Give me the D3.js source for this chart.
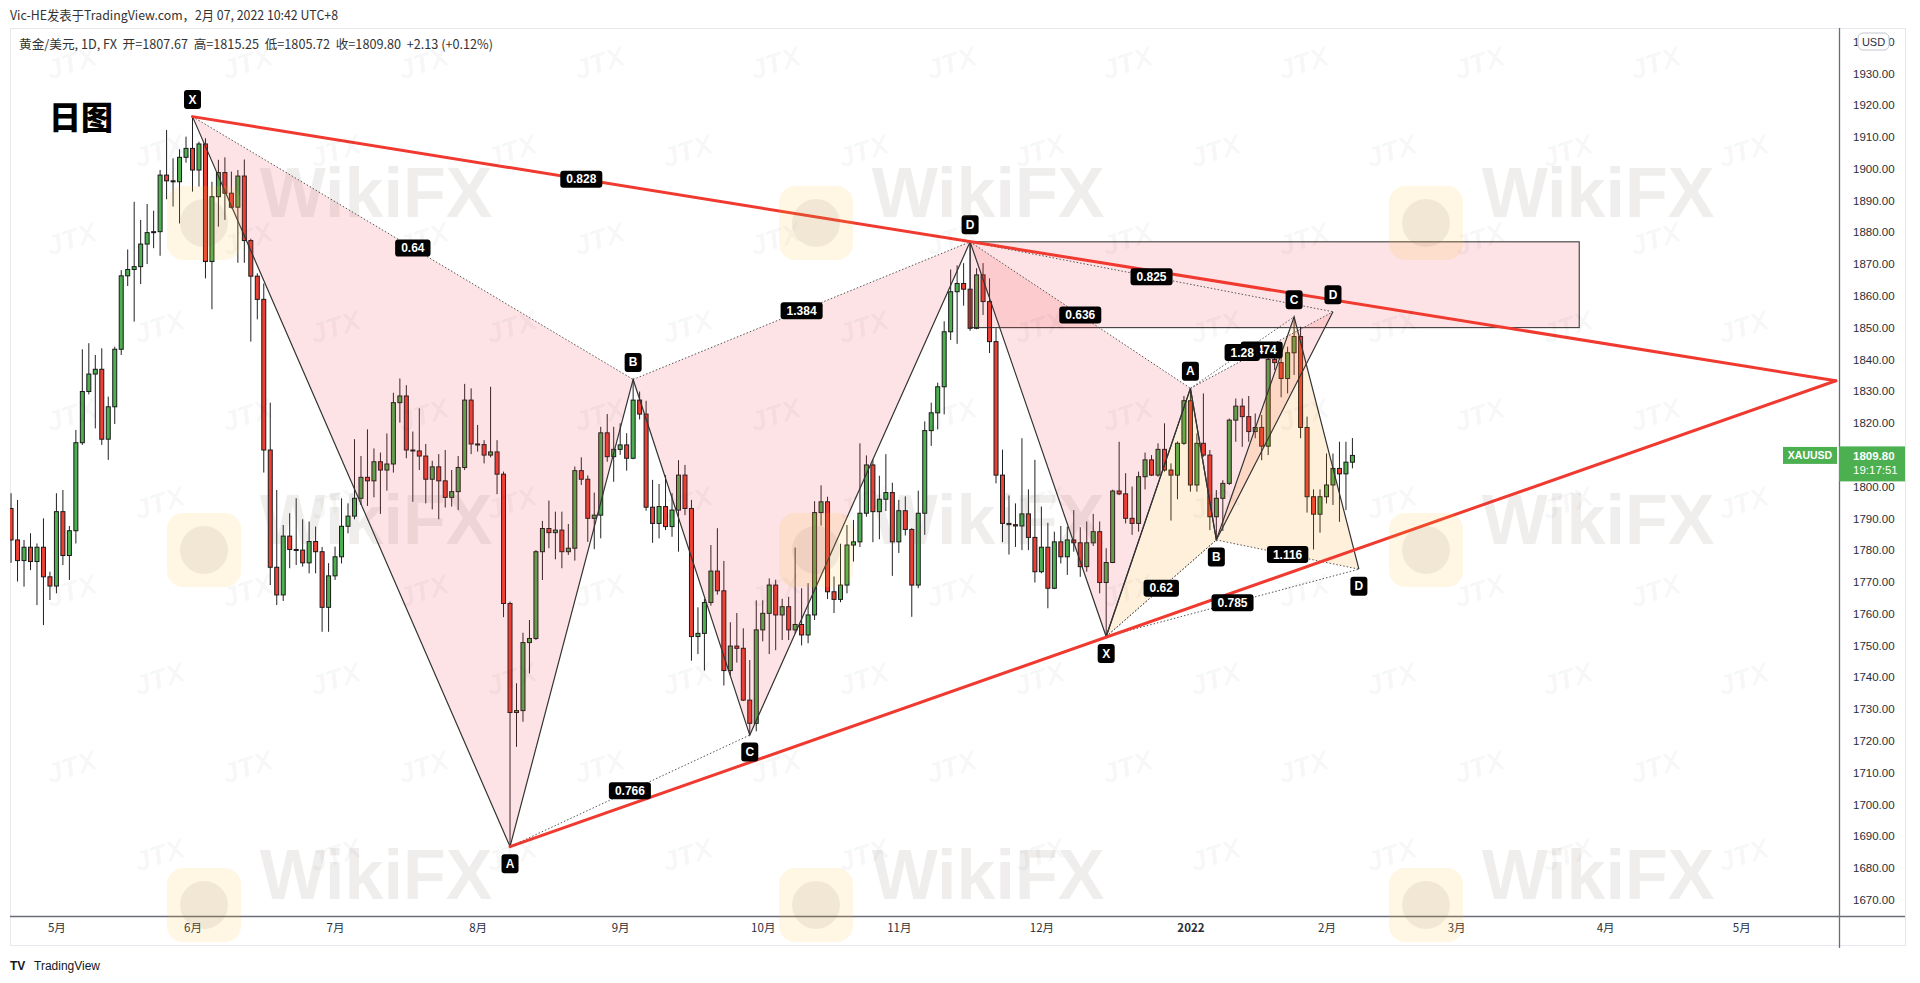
<!DOCTYPE html>
<html><head><meta charset="utf-8">
<script src="https://cdn.jsdelivr.net/npm/d3@7"></script>
<style>body{margin:0;background:#fff;overflow:hidden}svg{display:block}</style>
</head><body>
<svg id="c" width="1920" height="983"></svg>
<script>
// ---------- DATA ----------
const startIndex = -28; // trading-day index of first candle (0 = 2021-06-01)
const opens = [
1793.1,1783.2,1776.7,1780.9,1776.4,1780.9,1771.6,1768.7,1792.1,1778.3,
1786.1,1813.8,1829.9,1835.4,1836.9,1814.9,1825.1,1843.2,1866.3,1868.3,
1869.2,1876.3,1879.9,1880.2,1898.0,1896.2,1895.9,1903.6,1906.4,1899.6,
1907.8,1870.8,1891.2,1898.8,1892.3,1887.9,1897.7,1877.4,1866.2,1858.9,
1811.5,1774.6,1765.9,1784.4,1780.2,1780.0,1776.0,1782.7,1779.5,1762.0,
1771.9,1777.9,1787.5,1790.7,1796.3,1802.9,1801.8,1807.8,1805.2,1807.1,
1826.4,1828.5,1811.5,1811.2,1809.6,1802.3,1806.2,1801.8,1796.6,1798.4,
1806.0,1827.2,1813.4,1813.2,1809.9,1810.9,1803.9,1763.2,1728.9,1729.5,
1750.9,1752.2,1779.5,1786.8,1785.5,1786.3,1779.5,1780.6,1805.0,1802.3,
1790.0,1791.0,1816.9,1809.4,1811.7,1813.1,1808.9,1827.2,1822.8,1793.5,
1788.4,1793.7,1787.4,1792.6,1803.6,1793.1,1752.8,1753.8,1763.5,1773.4,
1767.2,1742.1,1749.8,1749.1,1732.8,1725.5,1754.9,1760.1,1769.0,1759.6,
1762.2,1754.9,1756.6,1753.3,1759.6,1791.8,1795.2,1766.9,1764.5,1769.0,
1781.6,1782.6,1791.6,1806.8,1792.1,1796.0,1798.1,1782.6,1792.4,1786.5,
1769.0,1791.6,1817.6,1823.2,1831.4,1848.7,1861.3,1863.9,1862.1,1849.8,
1866.6,1858.2,1845.6,1803.6,1788.4,1788.0,1787.6,1791.4,1784.0,1773.2,
1780.9,1768.0,1782.6,1777.9,1783.2,1782.3,1774.8,1782.3,1785.8,1769.8,
1776.1,1798.6,1797.7,1790.0,1788.4,1803.1,1808.4,1803.6,1811.7,1805.2,
1803.6,1813.6,1827.0,1800.5,1813.6,1809.9,1790.5,1796.3,1801.0,1820.9,
1825.3,1822.0,1817.3,1818.6,1812.7,1840.0,1839.0,1834.0,1842.1,1847.2,
1818.6,1796.8,1791.3,1796.8,1800.5,1805.7,1804.0,1807.67];
const highs = [
1797.9,1795.8,1783.2,1785.3,1782.1,1790.0,1773.2,1797.9,1798.9,1787.6,
1817.8,1843.2,1845.1,1841.4,1843.5,1828.3,1844.0,1868.1,1874.6,1889.6,
1883.9,1888.9,1886.8,1899.6,1912.2,1903.3,1906.1,1910.1,1916.4,1908.5,
1909.6,1895.9,1902.8,1903.6,1899.1,1899.6,1902.9,1878.0,1867.1,1863.9,
1826.4,1798.9,1787.9,1791.6,1796.3,1789.7,1789.0,1787.4,1781.0,1775.9,
1781.1,1796.3,1794.7,1814.9,1809.6,1818.0,1812.0,1810.7,1816.7,1829.5,
1834.0,1831.9,1817.3,1824.6,1813.4,1808.1,1810.2,1811.5,1805.2,1809.6,
1832.3,1830.9,1819.4,1814.6,1831.4,1814.6,1804.7,1763.8,1738.1,1754.0,
1758.0,1780.0,1789.2,1795.6,1792.1,1792.1,1788.2,1806.3,1809.2,1803.5,
1798.1,1818.8,1822.8,1818.8,1819.9,1816.8,1833.7,1829.9,1827.0,1802.1,
1800.8,1803.6,1797.9,1808.3,1806.8,1795.8,1762.0,1764.7,1781.6,1786.9,
1776.6,1757.3,1760.2,1755.4,1745.4,1764.2,1764.2,1771.1,1770.7,1764.7,
1765.3,1780.8,1768.0,1769.6,1795.4,1800.4,1796.8,1771.7,1782.0,1787.9,
1789.5,1813.6,1809.8,1808.5,1803.4,1810.2,1801.2,1795.8,1796.9,1786.9,
1798.7,1820.5,1826.4,1832.7,1852.0,1868.3,1869.6,1870.3,1877.0,1868.7,
1870.3,1865.5,1849.8,1811.6,1797.2,1794.7,1815.2,1799.1,1808.4,1793.7,
1788.6,1785.8,1787.6,1787.4,1792.6,1787.2,1789.0,1791.4,1789.0,1780.6,
1799.0,1814.1,1804.2,1800.0,1804.7,1810.7,1809.9,1813.6,1819.9,1807.3,
1814.2,1828.5,1830.9,1816.7,1829.3,1811.5,1798.9,1802.0,1821.4,1827.7,
1827.7,1828.5,1823.0,1822.5,1841.4,1842.9,1841.4,1844.0,1853.4,1850.3,
1822.0,1799.1,1799.1,1810.4,1810.4,1814.1,1814.1,1815.25];
const lows = [
1776.0,1770.1,1768.5,1773.7,1762.7,1756.4,1764.3,1766.4,1775.3,1770.6,
1782.1,1813.1,1829.0,1818.3,1813.1,1808.4,1819.7,1841.4,1863.1,1851.9,
1863.7,1870.0,1875.0,1872.6,1890.4,1888.1,1882.8,1901.9,1892.8,1894.4,
1865.5,1855.8,1881.8,1883.9,1887.5,1870.4,1870.4,1845.6,1852.6,1804.4,
1769.0,1762.7,1764.0,1774.3,1775.3,1774.8,1772.7,1772.7,1754.3,1754.3,
1770.6,1775.8,1785.3,1789.7,1794.2,1793.9,1796.6,1791.4,1798.7,1804.4,
1820.1,1808.9,1795.2,1805.2,1794.7,1792.8,1789.7,1793.4,1793.7,1792.6,
1805.2,1810.2,1811.0,1807.3,1809.2,1797.6,1758.9,1686.7,1718.1,1726.0,
1741.2,1751.7,1770.6,1780.6,1777.1,1774.3,1778.5,1776.7,1800.5,1782.6,
1780.3,1783.7,1807.8,1801.5,1810.0,1805.0,1808.6,1821.1,1792.4,1782.3,
1783.7,1786.3,1784.2,1779.5,1791.0,1745.2,1747.3,1742.1,1762.5,1766.0,
1737.4,1740.5,1744.6,1732.5,1721.8,1723.0,1751.3,1747.3,1748.5,1751.7,
1751.7,1753.8,1750.0,1750.7,1758.0,1787.7,1764.6,1760.2,1763.6,1766.4,
1776.4,1781.0,1790.5,1782.5,1783.4,1792.3,1771.9,1779.1,1784.6,1759.0,
1768.0,1784.8,1812.8,1818.0,1822.7,1846.1,1844.9,1856.9,1849.0,1849.5,
1854.0,1842.0,1801.0,1782.5,1778.6,1781.0,1780.0,1780.0,1769.8,1772.7,
1761.7,1767.7,1775.8,1772.2,1779.5,1771.6,1773.2,1781.3,1766.4,1752.8,
1775.9,1797.3,1788.4,1784.8,1785.8,1799.1,1803.3,1803.1,1804.7,1789.3,
1796.0,1813.1,1798.4,1798.4,1809.4,1786.3,1783.2,1786.0,1800.5,1814.1,
1812.5,1814.1,1815.2,1808.3,1809.9,1836.7,1828.1,1829.3,1835.1,1815.2,
1791.8,1780.2,1785.5,1794.7,1794.2,1788.9,1792.6,1805.72];
const closes = [
1783.2,1776.7,1780.9,1776.4,1780.9,1771.6,1768.7,1792.1,1778.3,1786.1,
1813.8,1829.9,1835.4,1836.9,1814.9,1825.1,1843.2,1866.3,1868.3,1869.2,
1876.3,1879.9,1880.2,1898.0,1896.2,1895.9,1903.6,1906.4,1899.6,1907.8,
1870.8,1891.2,1898.8,1892.3,1887.9,1897.7,1877.4,1866.2,1858.9,1811.5,
1774.6,1765.9,1784.4,1780.2,1780.0,1776.0,1782.7,1779.5,1762.0,1771.9,
1777.9,1787.5,1790.7,1796.3,1802.9,1801.8,1807.8,1805.2,1807.1,1826.4,
1828.5,1811.5,1811.2,1809.6,1802.3,1806.2,1801.8,1796.6,1798.4,1806.0,
1827.2,1813.4,1813.2,1809.9,1810.9,1803.9,1763.2,1728.9,1729.5,1750.9,
1752.2,1779.5,1786.8,1785.5,1786.3,1779.5,1780.6,1805.0,1802.3,1790.0,
1791.0,1816.9,1809.4,1811.7,1813.1,1808.9,1827.2,1822.8,1793.5,1788.4,
1793.7,1787.4,1792.6,1803.6,1793.1,1752.8,1753.8,1763.5,1773.4,1767.2,
1742.1,1749.8,1749.1,1732.8,1725.5,1754.9,1760.1,1769.0,1759.6,1762.2,
1754.9,1756.6,1753.3,1759.6,1791.8,1795.2,1766.9,1764.5,1769.0,1781.6,
1782.6,1791.6,1806.8,1792.1,1796.0,1798.1,1782.6,1792.4,1786.5,1769.0,
1791.6,1817.6,1823.2,1831.4,1848.7,1861.3,1863.9,1862.1,1849.8,1866.6,
1858.2,1845.6,1803.6,1788.4,1788.0,1787.6,1791.4,1784.0,1773.2,1780.9,
1768.0,1782.6,1777.9,1783.2,1782.3,1774.8,1782.3,1785.8,1769.8,1776.1,
1798.6,1797.7,1790.0,1788.4,1803.1,1808.4,1803.6,1811.7,1805.2,1803.6,
1813.6,1827.0,1800.5,1813.6,1809.9,1790.5,1796.3,1801.0,1820.9,1825.3,
1822.0,1817.3,1818.6,1812.7,1840.0,1839.0,1834.0,1842.1,1847.2,1818.6,
1796.8,1791.3,1796.8,1800.5,1805.7,1804.0,1807.67,1809.80];

const monthTicks  = [-21, 0, 22, 44, 66, 88, 109, 131, 154, 175, 195, 218, 239];
const monthLabels = ["5月","6月","7月","8月","9月","10月","11月","12月","2022","2月","3月","4月","5月"];
const priceTicks  = d3.range(1670, 1941, 10);

const pointNames = ["X","A","B","C","D"];
const pattern1Index = [0, 49, 68, 86, 120];
const pattern1Price = [1916.4, 1686.7, 1833.7, 1721.8, 1877.0];
const pattern1Ratios = ["0.64", "0.766", "1.384", "0.828"];     // XB, AC, BD, XD
const pattern2Index = [120, 141, 154, 158, 176];
const pattern2Price = [1877.0, 1752.8, 1830.9, 1783.2, 1855.0];
const pattern2Ratios = ["0.636", "0.62", "1.474", "0.825"];
const pattern3Index = [141, 154, 158, 170, 180];
const pattern3Price = [1752.8, 1830.9, 1783.2, 1853.4, 1774.0];
const pattern3Ratios = ["0.62", "1.28", "1.116", "0.785"];

const trendIndex = [0, 49, 253.6];          // upper start, lower start, apex
const trendPrice = [1916.4, 1686.7, 1833.3];
const boxIndex = [120, 214];
const boxPrice = [1850.0, 1877.0];

const headerLine1 = "Vic-HE发表于TradingView.com，2月 07, 2022 10:42 UTC+8";
const headerLine2 = "黄金/美元, 1D, FX  开=1807.67  高=1815.25  低=1805.72  收=1809.80  +2.13 (+0.12%)";
const chartTitle = "日图";
const lastClock = "19:17:51";

// ---------- DRAW ----------
const W = 1920, H = 983;
const plot = {left: 10, right: 1839, top: 28, bottom: 916};
const svg = d3.select("#c");
const x = d3.scaleLinear().domain([0, 239]).range([192.5, 192.5 + 239 * 6.48]);
const y = d3.scaleLinear().domain([1670, 1930]).range([899.7, 73.4]);
const LAT = "'Liberation Sans', Arial, sans-serif";
const CJK = "'Noto Sans CJK SC', 'Noto Sans', sans-serif";

svg.append("rect").attr("width", W).attr("height", H).attr("fill", "#fff");

// pane frame
svg.append("rect").attr("x", 10.5).attr("y", 28.5).attr("width", 1895).attr("height", 917)
  .attr("fill", "none").attr("stroke", "#e6e8ee");

// header
svg.append("text").attr("x", 10).attr("y", 20).attr("font-family", CJK).attr("font-size", 13)
  .attr("fill", "#333").attr("textLength", 328).attr("lengthAdjust", "spacingAndGlyphs").text(headerLine1);
svg.append("text").attr("x", 19).attr("y", 48.5).attr("font-family", CJK).attr("font-size", 12.5)
  .attr("fill", "#333").attr("textLength", 474).attr("lengthAdjust", "spacingAndGlyphs")
  .style("white-space", "pre").text(headerLine2);

const defs = svg.append("defs");
defs.append("clipPath").attr("id", "pc").append("rect")
  .attr("x", plot.left).attr("y", plot.top).attr("width", plot.right - plot.left).attr("height", plot.bottom - plot.top);
const pg = svg.append("g").attr("clip-path", "url(#pc)");

pg.append("text").attr("x", 49).attr("y", 129).attr("font-family", CJK).attr("font-weight", 900)
  .attr("font-size", 32).attr("fill", "#000").text(chartTitle);

// candles
const candles = opens.map((o, k) => ({i: startIndex + k, o, h: highs[k], l: lows[k], c: closes[k]}));
const GREEN = "#4caf50", RED = "#ec4034";
const cg = pg.append("g");
cg.selectAll("line").data(candles).join("line")
  .attr("x1", d => x(d.i)).attr("x2", d => x(d.i))
  .attr("y1", d => y(d.h)).attr("y2", d => y(d.l))
  .attr("stroke", "#222").attr("stroke-width", 1);
cg.selectAll("rect").data(candles).join("rect")
  .attr("x", d => x(d.i) - 2).attr("width", 4)
  .attr("y", d => y(Math.max(d.o, d.c)))
  .attr("height", d => Math.max(1, Math.abs(y(d.o) - y(d.c))))
  .attr("fill", d => d.c >= d.o ? GREEN : RED)
  .attr("stroke", "#1a1a1a").attr("stroke-width", 1);

// patterns
const patterns = [
  {idx: pattern1Index, pr: pattern1Price, ratios: pattern1Ratios, fill: "rgba(242,54,69,0.14)"},
  {idx: pattern2Index, pr: pattern2Price, ratios: pattern2Ratios, fill: "rgba(242,54,69,0.14)"},
  {idx: pattern3Index, pr: pattern3Price, ratios: pattern3Ratios, fill: "rgba(255,152,0,0.14)"}
];
patterns.forEach(p => { p.pts = p.idx.map((v, k) => [x(v), y(p.pr[k])]); });

// rectangle zone
pg.append("rect").attr("x", x(boxIndex[0])).attr("y", y(boxPrice[1]))
  .attr("width", x(boxIndex[1]) - x(boxIndex[0])).attr("height", y(boxPrice[0]) - y(boxPrice[1]))
  .attr("fill", "rgba(242,54,69,0.14)").attr("stroke", "#2a2a2a").attr("stroke-width", 1);

const fg = pg.append("g");
patterns.forEach(p => {
  const P = p.pts;
  [[0,1,2],[2,3,4]].forEach(tri => {
    fg.append("path").attr("d", "M" + tri.map(k => P[k].join(",")).join("L") + "Z").attr("fill", p.fill);
  });
});
const lg = pg.append("g");
patterns.forEach(p => {
  const P = p.pts;
  [[0,2],[1,3],[2,4],[0,4]].forEach(([a,b]) => {
    lg.append("line").attr("x1", P[a][0]).attr("y1", P[a][1]).attr("x2", P[b][0]).attr("y2", P[b][1])
      .attr("stroke", "#555").attr("stroke-width", 1).attr("stroke-dasharray", "1.5,2");
  });
  lg.append("path").attr("d", "M" + P.map(q => q.join(",")).join("L"))
    .attr("fill", "none").attr("stroke", "#333").attr("stroke-width", 1.2);
});

// red trend lines
const apex = [x(trendIndex[2]), y(trendPrice[2])];
[0, 1].forEach(k => {
  pg.append("line").attr("x1", x(trendIndex[k])).attr("y1", y(trendPrice[k]))
    .attr("x2", apex[0]).attr("y2", apex[1])
    .attr("stroke", "#f0392f").attr("stroke-width", 3).attr("stroke-linecap", "round");
});

// labels (collect, then drop labels that are completely covered by a later one)
const specs = [];
[1, 2, 0].forEach(pi => {
  const p = patterns[pi], P = p.pts;
  [[0,2],[1,3],[2,4],[0,4]].forEach(([a,b], r) => {
    specs.push({cx: (P[a][0] + P[b][0]) / 2, cy: (P[a][1] + P[b][1]) / 2, text: p.ratios[r], pt: false});
  });
  P.forEach((q, k) => {
    const ref = k === 0 ? p.pr[1] : p.pr[k - 1];
    const above = p.pr[k] > ref;
    specs.push({cx: q[0], cy: q[1] + (above ? -17 : 17), text: pointNames[k], pt: true});
  });
});
const labG = pg.append("g");
specs.forEach((s, k) => {
  const covered = specs.slice(k + 1).some(o => Math.abs(o.cx - s.cx) < 4 && Math.abs(o.cy - s.cy) < 4);
  if (covered) return;
  const g = labG.append("g");
  const t = g.append("text").attr("x", s.cx).attr("y", s.cy).attr("text-anchor", "middle")
    .attr("dominant-baseline", "central").attr("fill", "#fff").attr("font-family", LAT)
    .attr("font-weight", "bold").attr("font-size", 12).text(s.text);
  const tw = t.node().getComputedTextLength();
  const w = s.pt ? Math.max(17, tw + 8) : tw + 12;
  const h = s.pt ? 19 : 17;
  g.insert("rect", "text").attr("x", s.cx - w / 2).attr("y", s.cy - h / 2).attr("width", w).attr("height", h)
    .attr("rx", 3).attr("fill", "#000");
});

// axes
svg.append("line").attr("x1", 10).attr("x2", 1905).attr("y1", 916.5).attr("y2", 916.5)
  .attr("stroke", "#6a6d78").attr("stroke-width", 1.3);
svg.append("line").attr("x1", 1839.5).attr("x2", 1839.5).attr("y1", 28).attr("y2", 948)
  .attr("stroke", "#6a6d78").attr("stroke-width", 1.3);

const ay = svg.append("g").attr("transform", "translate(1839,0)")
  .call(d3.axisRight(y).tickValues(priceTicks).tickFormat(d3.format(".2f")).tickSize(0).tickPadding(14));
ay.select(".domain").remove();
ay.selectAll("text").attr("font-family", LAT).attr("font-size", 11.5).attr("fill", "#2a2e39");

const ax = svg.append("g").attr("transform", "translate(0,916)")
  .call(d3.axisBottom(x).tickValues(monthTicks).tickFormat((d, i) => monthLabels[i]).tickSize(0).tickPadding(8));
ax.select(".domain").remove();
ax.selectAll("text").attr("font-family", CJK).attr("font-size", 11.5).attr("fill", "#2a2e39")
  .attr("font-weight", (d, i) => monthLabels[i] === "2022" ? "bold" : "normal");

// USD badge
svg.append("rect").attr("x", 1858).attr("y", 33).attr("width", 31).attr("height", 17).attr("rx", 5)
  .attr("fill", "#fff").attr("stroke", "#c4c6cc");
svg.append("text").attr("x", 1873.5).attr("y", 42).attr("text-anchor", "middle").attr("dominant-baseline", "central")
  .attr("font-family", LAT).attr("font-size", 11).attr("fill", "#2a2e39").text("USD");

// last price labels
const last = closes[closes.length - 1];
const ly = y(last);
svg.append("rect").attr("x", 1783).attr("y", ly - 8.5).attr("width", 54).attr("height", 17).attr("fill", "#4caf50");
svg.append("text").attr("x", 1810).attr("y", ly).attr("text-anchor", "middle").attr("dominant-baseline", "central")
  .attr("font-family", LAT).attr("font-weight", "bold").attr("font-size", 10.5).attr("fill", "#fff").text("XAUUSD");
svg.append("rect").attr("x", 1839).attr("y", ly - 9).attr("width", 66).attr("height", 35).attr("fill", "#4caf50");
svg.append("text").attr("x", 1853).attr("y", ly + 0.5).attr("dominant-baseline", "central")
  .attr("font-family", LAT).attr("font-weight", "bold").attr("font-size", 11.5).attr("fill", "#fff").text(last.toFixed(2));
svg.append("text").attr("x", 1853).attr("y", ly + 15).attr("dominant-baseline", "central")
  .attr("font-family", LAT).attr("font-size", 11.5).attr("fill", "#fff").text(lastClock);

// footer
svg.append("text").attr("x", 10).attr("y", 969.5).attr("font-family", LAT).attr("font-weight", 900)
  .attr("font-size", 12).attr("fill", "#131722").text("TV");
svg.append("text").attr("x", 34).attr("y", 969.5).attr("font-family", LAT)
  .attr("font-size", 12).attr("fill", "#131722").text("TradingView");

// watermarks (kept inside the canvas)
const wm = svg.append("g").attr("pointer-events", "none");
for (let r = 0; r < 11; r++) {
  for (let c = 0; c < 11; c++) {
    const tx = 50 + c * 176 + (r % 2) * 88, ty = 80 + r * 88;
    if (tx > 1780 || ty > 940) continue;
    wm.append("text").attr("transform", `translate(${tx},${ty}) rotate(-18)`)
      .attr("font-family", LAT).attr("font-style", "italic").attr("font-weight", "bold")
      .attr("font-size", 28).attr("fill", "rgba(0,0,0,0.045)").text("JTX");
  }
}
[376, 988, 1598].forEach(cx => {
  [193, 520, 875].forEach(cy => {
    const g = wm.append("g").attr("transform", `translate(${cx},${cy})`);
    g.append("rect").attr("x", -172 - 37).attr("y", 30 - 37).attr("width", 74).attr("height", 74).attr("rx", 16)
      .attr("fill", "rgba(255,196,40,0.13)");
    g.append("circle").attr("cx", -172).attr("cy", 30).attr("r", 24).attr("fill", "rgba(130,100,100,0.10)");
    g.append("text").attr("text-anchor", "middle").attr("dominant-baseline", "central")
      .attr("font-family", LAT).attr("font-weight", "bold").attr("font-size", 70)
      .attr("fill", "rgba(120,90,90,0.11)").text("WikiFX");
  });
});
</script>
</body></html>
